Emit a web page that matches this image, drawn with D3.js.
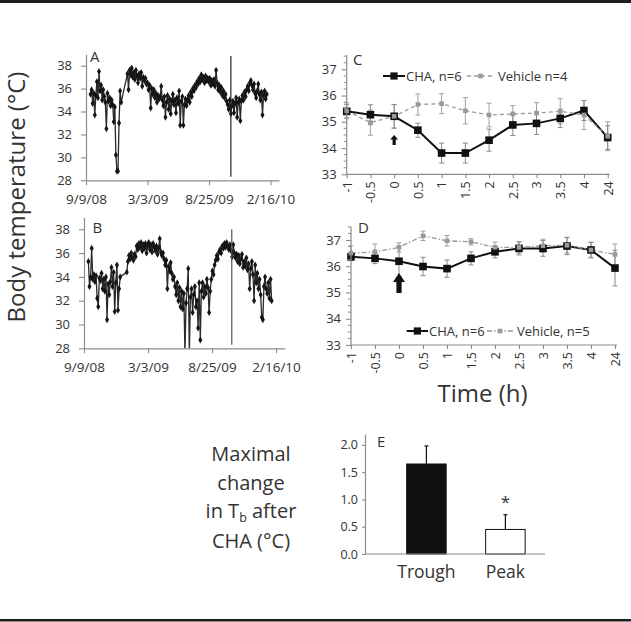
<!DOCTYPE html>
<html><head><meta charset="utf-8">
<script src="https://cdn.jsdelivr.net/npm/d3@7"></script>
<style>
body{margin:0;background:#fff}
svg{display:block}
text{font-family:"Open Sans","Noto Sans",sans-serif}
</style>
</head><body>
<svg id="chart" width="631" height="622"></svg>
<script>
// ---------------- DATA ----------------
const seriesStart = "2008-09-09";
const seriesEnd = "2010-03-12";
const dateTicks = ["2008-09-09", "2009-03-03", "2009-08-25", "2010-02-16"];
const stepDays = 3;
const firstDayA = 13;
const firstDayB = 12;
// Panel A daily-record samples (°C), null = no recording
const tempA = [
  35.5, 35.9, 34.7, 35.6, 33.7, 35.4,
  36.6, 35.2, 37.5, 35.8, 36.3, 35.0, 35.9,
  35.3, 34.8, 32.5, 35.6, 34.9, 35.2, 34.5,
  35.0, 34.6, 33.1, 34.4,
  30.2, 28.8, 28.8, 33.0, 35.8, 34.8,
  null, null, null, null, null,
  37.3, 35.9, 37.6, 37.2, 37.8,
  37.0, 37.4, 36.8, 37.6, 37.1, 36.5, 37.3, 36.9, 37.4, 36.2, 37.0, 36.7, 36.9, 36.4,
  36.5, 35.9, 36.3, 34.3, 36.0, 35.5, 35.9, 35.2, 35.6, 34.8, 35.4, 35.1, 35.3,
  36.2, 35.0, 34.5, 35.3, 33.5, 34.8, 35.4, 34.2, 35.1, 33.8, 34.9, 35.5, 34.6, 35.0, 33.9, 35.2, 34.7, 35.8, 32.8, 34.9, 35.3, 32.8, 34.6, 35.1, 34.5,
  35.0, 35.4, 34.8, 35.7, 35.3, 36.0, 35.8, 36.3, 36.1, 36.6, 36.4,
  36.9, 36.6, 37.2, 36.8, 37.0, 36.5, 37.1, 36.7, 36.9,
  36.6, 36.9, 36.3, 36.7, 36.4, 36.8, 36.2, 37.6, 36.5, 35.9, 36.3, 35.7, 36.1, 35.4, 35.8, 35.2, 35.5, 34.9,
  34.6, 34.2, 35.0, 33.8, 34.5, 34.9, 33.9, 34.7, 35.2, 33.5, 34.8, 35.1,
  33.2, 34.9, 35.4, 35.0, 35.7, 35.3, 35.9, 36.2, 35.8, 36.5, 36.7, 36.3,
  35.9, 36.4, 35.6, 35.2, 35.8, 36.4, 35.5, 35.0, 35.7, 33.7, 35.4, 35.8, 35.1, 35.5
];
// Panel B daily-record samples (°C)
const tempB = [
  35.3, 33.2, 34.0, 36.4, 33.8, 34.2,
  33.6, 34.1, 32.2, 31.5, 33.9, 33.7, 34.3, 33.0, 33.8, 32.8, 34.0, 30.4, 33.4, 32.5, 33.6, 34.8, 33.2,
  34.4, 31.1, 33.5, 35.0, 31.2, 33.0, 34.0,
  null, null, null, null, null, 34.4,
  35.3, 35.8, 35.5, 36.0, 35.6, 35.4, 35.9, 35.7,
  36.6, 36.3, 36.8, 36.5, 36.9, 36.2, 36.7, 36.4, 36.8, 36.0, 36.6, 36.9, 36.3, 36.7, 36.1, 36.8, 36.5, 36.2, 36.6, 35.9, 36.4, 37.2,
  36.1, 35.8, 36.0, 35.5, 35.0, 35.4, 33.0, 34.9, 34.5, 35.2, 34.3, 33.8,
  34.0, 33.2, 32.5, 33.5, 32.0, 33.1, 31.5, 32.8, 31.3, 32.6, 27.5, 31.8, 33.0,
  34.7, 27.5, 32.3, 33.0, 31.0, 32.5, 33.2, 31.5, 32.0, 29.7, 33.5, 28.7,
  32.8, 33.5, 32.3, 33.2, 32.6, 33.8, 33.1, 31.0, 32.8,
  33.8, 34.5, 34.2, 35.0, 35.4, 35.8, 35.5, 36.1, 36.3, 36.0, 36.6, 36.4,
  36.8, 36.5, 36.9, 36.6, 36.3, 36.7, 36.2,
  35.7, 36.7, 36.0, 35.6, 35.9, 35.3, 35.8, 35.1, 35.5, 35.9, 34.8, 35.3, 34.9, 35.6, 34.6, 35.1, 33.0, 34.7, 35.3, 34.2,
  32.0, 35.0, 33.5, 34.3, 33.0, 33.8, 32.5, 30.6, 30.4, 33.2, 34.0, 33.0, 32.6, 33.5, 32.2, 33.8, 32.0
];
// vertical event lines in A and B: [day offset, low, high]
const eventA = [412, 28.3, 38.85];
const eventB = [404, 28.3, 38.0];

const timeCats = ["-1", "-0.5", "0", "0.5", "1", "1.5", "2", "2.5", "3", "3.5", "4", "24"];
const chaC    = [35.40, 35.27, 35.21, 34.68, 33.81, 33.81, 34.30, 34.88, 34.94, 35.13, 35.43, 34.40];
const chaCErr = [0.25, 0.38, 0.45, 0.27, 0.38, 0.38, 0.42, 0.40, 0.42, 0.35, 0.38, 0.45];
const vehC    = [35.42, 34.97, 35.21, 35.66, 35.69, 35.42, 35.26, 35.30, 35.33, 35.40, 35.26, 34.45];
const vehCErr = [0.30, 0.48, 0.45, 0.40, 0.38, 0.50, 0.45, 0.32, 0.40, 0.48, 0.55, 0.55];
const chaD    = [36.36, 36.30, 36.19, 35.99, 35.91, 36.30, 36.55, 36.68, 36.68, 36.77, 36.62, 35.93];
const chaDErr = [0.15, 0.20, 0.58, 0.35, 0.33, 0.25, 0.23, 0.25, 0.30, 0.33, 0.30, 0.68];
const vehD    = [36.50, 36.55, 36.72, 37.16, 36.97, 36.93, 36.72, 36.72, 36.78, 36.80, 36.62, 36.45];
const vehDErr = [0.28, 0.30, 0.17, 0.18, 0.20, 0.12, 0.20, 0.22, 0.25, 0.30, 0.28, 0.40];
const legendC = ["CHA, n=6", "Vehicle n=4"];
const legendD = ["CHA, n=6", "Vehicle, n=5"];

const eCats = ["Trough", "Peak"];
const eVals = [1.65, 0.45];
const eErr  = [0.33, 0.27];

// ---------------- DRAWING ----------------
const svg = d3.select("#chart");
const AX = "#8c8c8c", TXT = "#333";
const DAY = 86400000;
const d0 = new Date(seriesStart + "T00:00:00Z");
const dEnd = new Date(seriesEnd + "T00:00:00Z");
const fmtDate = d3.utcFormat("%-m/%-d/%y");

// frame lines
svg.append("rect").attr("x", 0).attr("y", 0).attr("width", 631).attr("height", 3).attr("fill", "#1e1e1e");
svg.append("rect").attr("x", 0).attr("y", 619).attr("width", 631).attr("height", 2.5).attr("fill", "#1e1e1e");

function styleAxis(g, fs) {
  g.select(".domain").attr("stroke", AX).attr("stroke-width", 1.2);
  g.selectAll(".tick line").attr("stroke", AX).attr("stroke-width", 1.1);
  g.selectAll(".tick text").attr("fill", TXT).style("font-size", fs + "px");
}

function tsPanel(vals, firstDay, xr, yr, ev, letter, letterPos, lineCol) {
  const x = d3.scaleUtc().domain([d0, dEnd]).range(xr);
  const y = d3.scaleLinear().domain([28, 39]).range(yr);
  const pts = vals.map((v, i) => ({ d: new Date(+d0 + (firstDay + i * stepDays) * DAY), v }))
                  .filter(p => p.v !== null);
  const clipId = "clip" + letter;
  svg.append("clipPath").attr("id", clipId).append("rect")
    .attr("x", xr[0]).attr("y", yr[1]).attr("width", xr[1] - xr[0]).attr("height", yr[0] - yr[1]);
  const g = svg.append("g").attr("clip-path", `url(#${clipId})`);
  g.append("path").datum(pts)
    .attr("d", d3.line().x(p => x(p.d)).y(p => y(p.v)))
    .attr("fill", "none").attr("stroke", "#2a2a2a").attr("stroke-width", 1.3);
  g.selectAll("path.mk").data(pts).join("path").attr("class", "mk")
    .attr("transform", p => `translate(${x(p.d)},${y(p.v)})`)
    .attr("d", d3.symbol(d3.symbolDiamond, 14)).attr("fill", "#151515");
  const ed = new Date(+d0 + ev[0] * DAY);
  svg.append("line").attr("x1", x(ed)).attr("x2", x(ed)).attr("y1", y(ev[1])).attr("y2", y(ev[2]))
    .attr("stroke", lineCol).attr("stroke-width", 1.2);

  const ya = svg.append("g").attr("transform", `translate(${xr[0]},0)`)
    .call(d3.axisLeft(y).tickValues([28, 30, 32, 34, 36, 38]).tickSize(5).tickSizeOuter(0).tickPadding(9));
  styleAxis(ya, 13);
  const xa = svg.append("g").attr("transform", `translate(0,${yr[0]})`)
    .call(d3.axisBottom(x).tickValues(dateTicks.map(s => new Date(s + "T00:00:00Z")))
      .tickFormat(fmtDate).tickSize(5).tickSizeOuter(0).tickPadding(9));
  styleAxis(xa, 13.5);
  svg.append("text").attr("x", letterPos[0]).attr("y", letterPos[1]).text(letter)
    .attr("fill", TXT).style("font-size", "15px");
}

tsPanel(tempA, firstDayA, [86, 279], [180.3, 54.2], eventA, "A", [90, 61.7], "#222");
tsPanel(tempB, firstDayB, [84, 284.8], [348.3, 217.4], eventB, "B", [92.5, 232.7], "#555");

// y label
svg.append("text").attr("transform", "translate(25,197) rotate(-90)")
  .attr("text-anchor", "middle").attr("fill", TXT).style("font-size", "24px")
  .text("Body temperature (°C)");

function arrow(g, cx, yTop, yBot) {
  const h = yBot - yTop, hw = Math.max(4, h * 0.3), sw = Math.max(1.6, h * 0.13), hh = h * 0.45;
  g.append("path").attr("d",
    `M${cx},${yTop} L${cx + hw},${yTop + hh} L${cx + sw},${yTop + hh} L${cx + sw},${yBot} L${cx - sw},${yBot} L${cx - sw},${yTop + hh} L${cx - hw},${yTop + hh} Z`)
    .attr("fill", "#111");
}

function linePanel(cha, chaE, veh, vehE, xr, yr, yTop, letter, letterPos, legend, legPos, arrowVals, dash) {
  const x = d3.scalePoint().domain(timeCats).range(xr);
  const y = d3.scaleLinear().domain([33, 37]).range(yr);
  const g = svg.append("g");
  const minor = d3.range(33, 37.55, 0.25).filter(v => Math.abs(v - Math.round(v)) > 0.01);
  const ya = svg.append("g").attr("transform", `translate(${xr[0]},0)`)
    .call(d3.axisLeft(y).tickValues([33, 34, 35, 36, 37]).tickFormat(d3.format("d")).tickSize(5).tickSizeOuter(0).tickPadding(5));
  ya.select(".domain").remove();
  ya.append("line").attr("x1", 0).attr("x2", 0).attr("y1", yr[0]).attr("y2", yTop).attr("stroke", AX).attr("stroke-width", 1.2);
  ya.selectAll(".minor").data(minor).join("line").attr("class", "minor")
    .attr("x1", -3).attr("x2", 0).attr("y1", v => y(v)).attr("y2", v => y(v)).attr("stroke", AX);
  styleAxis(ya, 13);
  const xa = svg.append("g").attr("transform", `translate(0,${yr[0]})`)
    .call(d3.axisBottom(x).tickSize(4).tickSizeOuter(0));
  xa.select(".domain").attr("d", `M${xr[0]},0H${xr[1] + 2}`);
  styleAxis(xa, 12.5);
  xa.selectAll(".tick text").attr("transform", "rotate(-90)").attr("text-anchor", "end")
    .attr("x", -7).attr("y", 0).attr("dy", "0.35em");

  function errBars(vals, errs, col) {
    vals.forEach((v, i) => {
      const cx = x(timeCats[i]);
      g.append("line").attr("x1", cx).attr("x2", cx).attr("y1", y(v - errs[i])).attr("y2", y(v + errs[i])).attr("stroke", col).attr("stroke-width", 1);
      [v - errs[i], v + errs[i]].forEach(e => g.append("line").attr("x1", cx - 2.5).attr("x2", cx + 2.5).attr("y1", y(e)).attr("y2", y(e)).attr("stroke", col).attr("stroke-width", 1));
    });
  }
  errBars(veh, vehE, "#a0a0a0");
  errBars(cha, chaE, "#8a8a8a");
  const ln = d3.line().x((v, i) => x(timeCats[i])).y(v => y(v));
  g.append("path").datum(cha).attr("d", ln).attr("fill", "none").attr("stroke", "#111").attr("stroke-width", 2);
  g.append("path").datum(veh).attr("d", ln).attr("fill", "none").attr("stroke", "#9a9a9a").attr("stroke-width", 1.3).attr("stroke-dasharray", dash);
  g.selectAll(".cm").data(cha).join("rect").attr("class", "cm")
    .attr("x", (v, i) => x(timeCats[i]) - 3.8).attr("y", v => y(v) - 3.8).attr("width", 7.6).attr("height", 7.6).attr("fill", "#111");
  g.selectAll(".vm").data(veh).join("rect").attr("class", "vm")
    .attr("x", (v, i) => x(timeCats[i]) - 2.3).attr("y", v => y(v) - 2.3).attr("width", 4.6).attr("height", 4.6).attr("fill", "#9a9a9a");

  arrow(g, x("0"), y(arrowVals[1]), y(arrowVals[0]));

  svg.append("text").attr("x", letterPos[0]).attr("y", letterPos[1]).text(letter)
    .attr("fill", TXT).style("font-size", "15px");
  const L = svg.append("g").style("font-size", "13px");
  const [l1x0, l1x1, l2x0, l2x1, ly] = legPos;
  L.append("line").attr("x1", l1x0).attr("x2", l1x1).attr("y1", ly).attr("y2", ly).attr("stroke", "#111").attr("stroke-width", 2);
  L.append("rect").attr("x", (l1x0 + l1x1) / 2 - 3.6).attr("y", ly - 3.6).attr("width", 7.2).attr("height", 7.2).attr("fill", "#111");
  L.append("text").attr("x", l1x1 + 1).attr("y", ly + 4.5).attr("fill", TXT).text(legend[0]);
  L.append("line").attr("x1", l2x0).attr("x2", l2x1).attr("y1", ly).attr("y2", ly).attr("stroke", "#9a9a9a").attr("stroke-width", 1.3).attr("stroke-dasharray", dash);
  L.append("rect").attr("x", (l2x0 + l2x1) / 2 - 2.3).attr("y", ly - 2.3).attr("width", 4.6).attr("height", 4.6).attr("fill", "#9a9a9a");
  L.append("text").attr("x", l2x1 + 4).attr("y", ly + 4.5).attr("fill", TXT).text(legend[1]);
}

linePanel(chaC, chaCErr, vehC, vehCErr, [346.7, 607.7], [174.3, 69.3], 55, "C", [353, 65], legendC, [383, 405, 467, 494, 76], [34.12, 34.5], "4,3");
linePanel(chaD, chaDErr, vehD, vehDErr, [351, 615], [345, 240], 226.7, "D", [358, 233], legendD, [406.7, 428, 487, 513, 331], [34.98, 35.74], "5,2,1.5,2");

svg.append("text").attr("x", 482.5).attr("y", 401.5).attr("text-anchor", "middle")
  .attr("fill", TXT).style("font-size", "24px").text("Time (h)");

// Panel E
(function () {
  const x = d3.scaleBand().domain(eCats).range([386.9, 544.9]).paddingInner(0.5).paddingOuter(0.25);
  const y = d3.scaleLinear().domain([0, 2.2]).range([554, 434]);
  const g = svg.append("g");
  g.selectAll(".bar").data(eVals).join("rect").attr("class", "bar")
    .attr("x", (v, i) => x(eCats[i])).attr("y", v => y(v))
    .attr("width", x.bandwidth()).attr("height", v => y(0) - y(v))
    .attr("fill", (v, i) => i === 0 ? "#111" : "#fff")
    .attr("stroke", "#111").attr("stroke-width", 1);
  eVals.forEach((v, i) => {
    const cx = x(eCats[i]) + x.bandwidth() / 2;
    g.append("line").attr("x1", cx).attr("x2", cx).attr("y1", y(v)).attr("y2", y(v + eErr[i])).attr("stroke", "#111").attr("stroke-width", 1.2);
    g.append("line").attr("x1", cx - 2).attr("x2", cx + 2).attr("y1", y(v + eErr[i])).attr("y2", y(v + eErr[i])).attr("stroke", "#111").attr("stroke-width", 1.2);
  });
  const cxPeak = x("Peak") + x.bandwidth() / 2;
  g.append("text").attr("x", cxPeak).attr("y", y(eVals[1] + eErr[1]) - 7).attr("text-anchor", "middle")
    .attr("fill", TXT).style("font-size", "17px").text("*");
  const ya = svg.append("g").attr("transform", "translate(365,0)")
    .call(d3.axisLeft(y).tickValues([0, 0.5, 1, 1.5, 2]).tickFormat(d3.format(".1f")).tickSize(3).tickSizeOuter(0).tickPadding(4));
  styleAxis(ya, 12.5);
  const xa = svg.append("g").attr("transform", "translate(0,554)")
    .call(d3.axisBottom(x).tickSize(0).tickSizeOuter(0).tickPadding(12));
  xa.select(".domain").attr("d", "M365,0H545");
  styleAxis(xa, 17.5);
  svg.append("text").attr("x", 377).attr("y", 446.7).text("E").attr("fill", TXT).style("font-size", "15px");

  const T = svg.append("g").attr("text-anchor", "middle").attr("fill", TXT).style("font-size", "20px");
  T.append("text").attr("x", 251).attr("y", 461).text("Maximal");
  T.append("text").attr("x", 251).attr("y", 490).text("change");
  const t3 = T.append("text").attr("x", 251).attr("y", 518);
  t3.append("tspan").text("in T");
  t3.append("tspan").attr("dy", 4).style("font-size", "12.5px").text("b");
  t3.append("tspan").attr("dy", -4).text(" after");
  T.append("text").attr("x", 251).attr("y", 548).text("CHA (°C)");
})();
</script>
</body></html>
